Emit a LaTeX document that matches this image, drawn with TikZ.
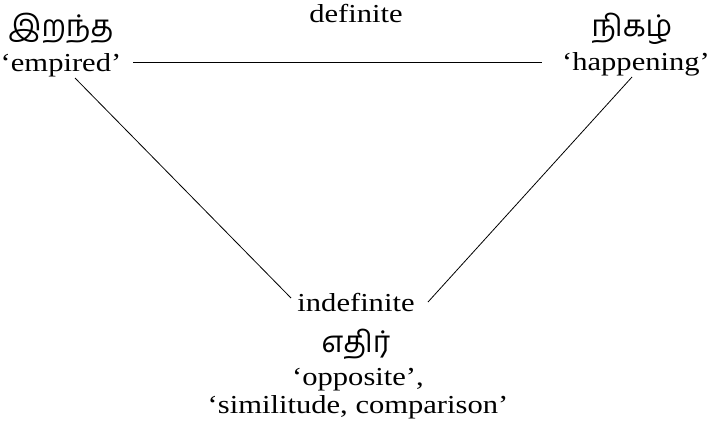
\documentclass[tikz,border=0pt]{standalone}
\usepackage{fontspec}
\setmainfont{Liberation Serif}[FakeStretch=1.18]
\newfontfamily\tamilfont[Script=Tamil]{Hind Madurai}
\begin{document}
\begin{tikzpicture}[x=1bp,y=-1bp,
  lbl/.style={inner sep=0pt,anchor=base,font=\fontsize{26}{30}\selectfont},
  tam/.style={inner sep=0pt,anchor=base,font=\tamilfont\fontsize{30}{34}\selectfont},
  ln/.style={line width=0.8bp}]
\useasboundingbox (0,0) rectangle (711,421);
\node[tam] (t1) at (61,36) {இறந்த};
\node[lbl] (e1) at (61,71) {‘empired’};
\node[lbl] (def) at (356,22) {definite};
\node[tam] (t2) at (632,36) {நிகழ்};
\node[lbl] (e2) at (636,70) {‘happening’};
\node[lbl] (ind) at (356,311) {indefinite};
\node[tam] (t3) at (356,352) {எதிர்};
\node[lbl] (op) at (358,385) {‘opposite’,};
\node[lbl] (sim) at (358,413) {‘similitude, comparison’};
\coordinate (h1) at (133,62);
\coordinate (h2) at (542,62);
\coordinate (l1) at (75,78);
\coordinate (l2) at (291,298);
\coordinate (r1) at (632,77);
\coordinate (r2) at (428,302);
\draw[ln] (h1) -- (h2);
\draw[ln] (l1) -- (l2);
\draw[ln] (r1) -- (r2);
\end{tikzpicture}
\end{document}
